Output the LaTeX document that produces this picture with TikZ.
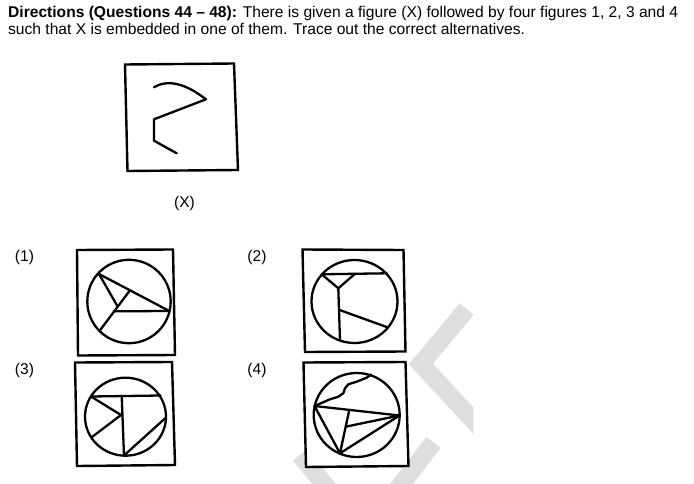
\documentclass[tikz,border=0pt]{standalone}
\usepackage{fontspec}
\setmainfont{Liberation Sans}
\begin{document}
\begin{tikzpicture}[x=1pt,y=-1pt,
  fig/.style={line width=2.3pt, line join=round, line cap=round},
  boxline/.style={line width=2.4pt, fill=white, line join=miter},
  wm/.style={draw=black!13, line width=18pt, line join=miter, line cap=butt},
  txt/.style={font=\fontsize{15.6}{18}\selectfont, inner sep=0pt}]
\useasboundingbox (0,0) rectangle (694,484);
\fill[white] (0,0) rectangle (694,484);
% watermark
\begin{scope}
\clip (0,0) rectangle (473.3,484);
\draw[wm] (466.7,309) -- (421,364) -- (495,444);
\end{scope}
\draw[wm] (433.5,442.5) -- (392.8,495);
\draw[wm] (300,455) -- (335,497);
% title
\node[txt, anchor=base west] (t1) at (8,17.5) {\textbf{Directions (Questions 44 – 48):} There is given a figure (X) followed by four figures 1, 2, 3 and 4};
\node[txt, anchor=base west] (t2) at (8,34.5) {such that X is embedded in one of them. Trace out the correct alternatives.};
% figure X
\draw[boxline] (125,64.5) -- (234,63.5) -- (238,170) -- (127.5,171) -- cycle;
\draw[fig] plot[smooth, tension=0.6] coordinates {(154,87.3) (161.7,84) (171.7,83.3) (183.3,86) (195,91.7) (206,99.3)} -- (154,119.3) -- (154,140.7) -- (176.7,153.3);
\node[txt] (lx) at (184.5,203) {(X)};
% labels
\node[txt] (l1) at (24.5,257) {(1)};
\node[txt] (l2) at (257,257) {(2)};
\node[txt] (l3) at (24.5,370) {(3)};
\node[txt] (l4) at (257,370) {(4)};
% figure 1
\draw[boxline] (77,250) -- (173,249.5) -- (175,355) -- (78,355.5) -- cycle;
\draw[fig] (129,301.5) circle[radius=41.7pt];
\draw[fig] (99,274) -- (169.3,311);
\draw[fig] (99,274) -- (117.7,306.7);
\draw[fig] (130,290.3) -- (99.5,331);
\draw[fig] (114.3,311.3) -- (169.3,311);
% figure 2
\draw[boxline] (302.5,249.5) -- (403.5,250) -- (405.5,351.5) -- (305,352) -- cycle;
\draw[fig] (354.5,301.5) ellipse[x radius=43pt, y radius=41.5pt];
\draw[fig] (321.7,274.3) -- (386.7,273.3);
\draw[fig] (321.7,274.3) -- (338.3,288.3) -- (355,273.8);
\draw[fig] (338.3,288.3) -- (340,340.6);
\draw[fig] (339.6,310) -- (388,327.5);
% figure 3
\draw[boxline] (75,362.5) -- (172,362) -- (175,465) -- (77,466) -- cycle;
\draw[fig] (125.5,416.7) ellipse[x radius=40.5pt, y radius=39pt];
\draw[fig] (91,396.5) -- (160.5,395.5);
\draw[fig] (121.7,395.9) -- (124,455.5);
\draw[fig] (91,396.5) -- (121,415) -- (92,437);
\draw[fig] (124,455.5) -- (165.5,418);
% figure 4
\draw[boxline] (303.5,362.5) -- (405.5,362) -- (408.5,466) -- (306,467) -- cycle;
\draw[fig] (356.7,415) ellipse[x radius=43pt, y radius=42pt];
\draw[fig] (314.5,406) -- (399.5,415.5) -- (340,453.3) -- cycle;
\draw[fig] (349.3,409.9) -- (340,453.3);
\draw[fig] (345.7,426.7) -- (399.5,415.5);
\draw[fig] (314.5,406) -- (330,399.3) -- (338.3,396.7) -- (343.3,393.3) -- (345,388.3) -- (348.3,384.3) -- (356.7,381.7) -- (366.7,377.7) -- (371,374.5);
\end{tikzpicture}
\end{document}
